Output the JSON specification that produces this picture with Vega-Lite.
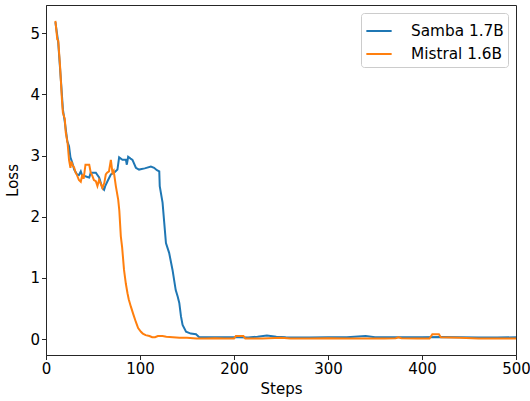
{
  "$schema": "https://vega.github.io/schema/vega-lite/v6.json",
  "width": 470,
  "height": 350,
  "autosize": "none",
  "padding": {"left": 46, "top": 5, "right": 14, "bottom": 46},
  "background": "white",
  "config": {
    "font": "DejaVu Sans",
    "view": {"stroke": "#262626", "strokeWidth": 1},
    "axis": {
      "grid": false,
      "domainColor": "#262626",
      "tickColor": "#262626",
      "tickSize": 4.5,
      "labelFont": "DejaVu Sans",
      "labelFontSize": 15,
      "labelColor": "#000000",
      "titleFont": "DejaVu Sans",
      "titleFontSize": 15,
      "titleFontWeight": "normal",
      "titleColor": "#000000"
    }
  },
  "data": {
    "values": [
      {"step": 10, "loss": 5.18, "model": "Samba 1.7B"},
      {"step": 13, "loss": 4.85, "model": "Samba 1.7B"},
      {"step": 16, "loss": 4.2, "model": "Samba 1.7B"},
      {"step": 18, "loss": 3.75, "model": "Samba 1.7B"},
      {"step": 20, "loss": 3.55, "model": "Samba 1.7B"},
      {"step": 22.7, "loss": 3.23, "model": "Samba 1.7B"},
      {"step": 24.5, "loss": 3.15, "model": "Samba 1.7B"},
      {"step": 26, "loss": 2.97, "model": "Samba 1.7B"},
      {"step": 28, "loss": 2.88, "model": "Samba 1.7B"},
      {"step": 30, "loss": 2.77, "model": "Samba 1.7B"},
      {"step": 33, "loss": 2.69, "model": "Samba 1.7B"},
      {"step": 35, "loss": 2.68, "model": "Samba 1.7B"},
      {"step": 37, "loss": 2.74, "model": "Samba 1.7B"},
      {"step": 38.7, "loss": 2.66, "model": "Samba 1.7B"},
      {"step": 42, "loss": 2.66, "model": "Samba 1.7B"},
      {"step": 44, "loss": 2.65, "model": "Samba 1.7B"},
      {"step": 46, "loss": 2.64, "model": "Samba 1.7B"},
      {"step": 47.6, "loss": 2.72, "model": "Samba 1.7B"},
      {"step": 50, "loss": 2.72, "model": "Samba 1.7B"},
      {"step": 53, "loss": 2.72, "model": "Samba 1.7B"},
      {"step": 56.5, "loss": 2.64, "model": "Samba 1.7B"},
      {"step": 60, "loss": 2.47, "model": "Samba 1.7B"},
      {"step": 61.8, "loss": 2.44, "model": "Samba 1.7B"},
      {"step": 63, "loss": 2.5, "model": "Samba 1.7B"},
      {"step": 65.4, "loss": 2.58, "model": "Samba 1.7B"},
      {"step": 69, "loss": 2.69, "model": "Samba 1.7B"},
      {"step": 72.5, "loss": 2.72, "model": "Samba 1.7B"},
      {"step": 76, "loss": 2.77, "model": "Samba 1.7B"},
      {"step": 77.8, "loss": 2.97, "model": "Samba 1.7B"},
      {"step": 81.3, "loss": 2.93, "model": "Samba 1.7B"},
      {"step": 85, "loss": 2.93, "model": "Samba 1.7B"},
      {"step": 86, "loss": 2.85, "model": "Samba 1.7B"},
      {"step": 87.4, "loss": 2.98, "model": "Samba 1.7B"},
      {"step": 90, "loss": 2.95, "model": "Samba 1.7B"},
      {"step": 92, "loss": 2.93, "model": "Samba 1.7B"},
      {"step": 95.6, "loss": 2.8, "model": "Samba 1.7B"},
      {"step": 99, "loss": 2.77, "model": "Samba 1.7B"},
      {"step": 105, "loss": 2.79, "model": "Samba 1.7B"},
      {"step": 111.6, "loss": 2.82, "model": "Samba 1.7B"},
      {"step": 115, "loss": 2.8, "model": "Samba 1.7B"},
      {"step": 118, "loss": 2.76, "model": "Samba 1.7B"},
      {"step": 120.5, "loss": 2.74, "model": "Samba 1.7B"},
      {"step": 121, "loss": 2.5, "model": "Samba 1.7B"},
      {"step": 124, "loss": 2.23, "model": "Samba 1.7B"},
      {"step": 125.8, "loss": 1.9, "model": "Samba 1.7B"},
      {"step": 127.6, "loss": 1.57, "model": "Samba 1.7B"},
      {"step": 131, "loss": 1.41, "model": "Samba 1.7B"},
      {"step": 134.6, "loss": 1.13, "model": "Samba 1.7B"},
      {"step": 138, "loss": 0.8, "model": "Samba 1.7B"},
      {"step": 140, "loss": 0.7, "model": "Samba 1.7B"},
      {"step": 141.8, "loss": 0.59, "model": "Samba 1.7B"},
      {"step": 143.6, "loss": 0.37, "model": "Samba 1.7B"},
      {"step": 145.3, "loss": 0.23, "model": "Samba 1.7B"},
      {"step": 149, "loss": 0.12, "model": "Samba 1.7B"},
      {"step": 154, "loss": 0.09, "model": "Samba 1.7B"},
      {"step": 159.6, "loss": 0.08, "model": "Samba 1.7B"},
      {"step": 163, "loss": 0.03, "model": "Samba 1.7B"},
      {"step": 170, "loss": 0.03, "model": "Samba 1.7B"},
      {"step": 190, "loss": 0.03, "model": "Samba 1.7B"},
      {"step": 205, "loss": 0.03, "model": "Samba 1.7B"},
      {"step": 215, "loss": 0.025, "model": "Samba 1.7B"},
      {"step": 225, "loss": 0.04, "model": "Samba 1.7B"},
      {"step": 235, "loss": 0.06, "model": "Samba 1.7B"},
      {"step": 245, "loss": 0.04, "model": "Samba 1.7B"},
      {"step": 255, "loss": 0.03, "model": "Samba 1.7B"},
      {"step": 280, "loss": 0.025, "model": "Samba 1.7B"},
      {"step": 300, "loss": 0.03, "model": "Samba 1.7B"},
      {"step": 320, "loss": 0.03, "model": "Samba 1.7B"},
      {"step": 340, "loss": 0.05, "model": "Samba 1.7B"},
      {"step": 350, "loss": 0.03, "model": "Samba 1.7B"},
      {"step": 380, "loss": 0.03, "model": "Samba 1.7B"},
      {"step": 400, "loss": 0.03, "model": "Samba 1.7B"},
      {"step": 420, "loss": 0.035, "model": "Samba 1.7B"},
      {"step": 440, "loss": 0.03, "model": "Samba 1.7B"},
      {"step": 460, "loss": 0.025, "model": "Samba 1.7B"},
      {"step": 480, "loss": 0.025, "model": "Samba 1.7B"},
      {"step": 500, "loss": 0.03, "model": "Samba 1.7B"},
      {"step": 10, "loss": 5.2, "model": "Mistral 1.6B"},
      {"step": 12, "loss": 4.9, "model": "Mistral 1.6B"},
      {"step": 13, "loss": 4.88, "model": "Mistral 1.6B"},
      {"step": 15, "loss": 4.45, "model": "Mistral 1.6B"},
      {"step": 17, "loss": 3.9, "model": "Mistral 1.6B"},
      {"step": 18, "loss": 3.7, "model": "Mistral 1.6B"},
      {"step": 20, "loss": 3.6, "model": "Mistral 1.6B"},
      {"step": 21, "loss": 3.38, "model": "Mistral 1.6B"},
      {"step": 23, "loss": 3.2, "model": "Mistral 1.6B"},
      {"step": 24.5, "loss": 2.93, "model": "Mistral 1.6B"},
      {"step": 26, "loss": 2.8, "model": "Mistral 1.6B"},
      {"step": 27, "loss": 2.9, "model": "Mistral 1.6B"},
      {"step": 28, "loss": 2.85, "model": "Mistral 1.6B"},
      {"step": 30, "loss": 2.8, "model": "Mistral 1.6B"},
      {"step": 31.5, "loss": 2.72, "model": "Mistral 1.6B"},
      {"step": 33, "loss": 2.68, "model": "Mistral 1.6B"},
      {"step": 35, "loss": 2.6, "model": "Mistral 1.6B"},
      {"step": 37, "loss": 2.57, "model": "Mistral 1.6B"},
      {"step": 38.7, "loss": 2.69, "model": "Mistral 1.6B"},
      {"step": 40, "loss": 2.62, "model": "Mistral 1.6B"},
      {"step": 42, "loss": 2.85, "model": "Mistral 1.6B"},
      {"step": 44, "loss": 2.85, "model": "Mistral 1.6B"},
      {"step": 46, "loss": 2.85, "model": "Mistral 1.6B"},
      {"step": 47.6, "loss": 2.72, "model": "Mistral 1.6B"},
      {"step": 49, "loss": 2.68, "model": "Mistral 1.6B"},
      {"step": 51, "loss": 2.6, "model": "Mistral 1.6B"},
      {"step": 53, "loss": 2.58, "model": "Mistral 1.6B"},
      {"step": 54.7, "loss": 2.5, "model": "Mistral 1.6B"},
      {"step": 56.5, "loss": 2.6, "model": "Mistral 1.6B"},
      {"step": 58, "loss": 2.55, "model": "Mistral 1.6B"},
      {"step": 60, "loss": 2.47, "model": "Mistral 1.6B"},
      {"step": 62, "loss": 2.55, "model": "Mistral 1.6B"},
      {"step": 63.6, "loss": 2.69, "model": "Mistral 1.6B"},
      {"step": 65, "loss": 2.72, "model": "Mistral 1.6B"},
      {"step": 67, "loss": 2.74, "model": "Mistral 1.6B"},
      {"step": 69, "loss": 2.93, "model": "Mistral 1.6B"},
      {"step": 70.7, "loss": 2.72, "model": "Mistral 1.6B"},
      {"step": 72, "loss": 2.75, "model": "Mistral 1.6B"},
      {"step": 74.3, "loss": 2.5, "model": "Mistral 1.6B"},
      {"step": 76.8, "loss": 2.28, "model": "Mistral 1.6B"},
      {"step": 78, "loss": 2.1, "model": "Mistral 1.6B"},
      {"step": 79.6, "loss": 1.68, "model": "Mistral 1.6B"},
      {"step": 81, "loss": 1.5, "model": "Mistral 1.6B"},
      {"step": 83, "loss": 1.13, "model": "Mistral 1.6B"},
      {"step": 85, "loss": 0.9, "model": "Mistral 1.6B"},
      {"step": 86.7, "loss": 0.75, "model": "Mistral 1.6B"},
      {"step": 88, "loss": 0.65, "model": "Mistral 1.6B"},
      {"step": 90.3, "loss": 0.53, "model": "Mistral 1.6B"},
      {"step": 93, "loss": 0.4, "model": "Mistral 1.6B"},
      {"step": 95.6, "loss": 0.28, "model": "Mistral 1.6B"},
      {"step": 98, "loss": 0.18, "model": "Mistral 1.6B"},
      {"step": 101, "loss": 0.12, "model": "Mistral 1.6B"},
      {"step": 103, "loss": 0.09, "model": "Mistral 1.6B"},
      {"step": 106, "loss": 0.065, "model": "Mistral 1.6B"},
      {"step": 110, "loss": 0.05, "model": "Mistral 1.6B"},
      {"step": 113, "loss": 0.03, "model": "Mistral 1.6B"},
      {"step": 116, "loss": 0.03, "model": "Mistral 1.6B"},
      {"step": 119, "loss": 0.05, "model": "Mistral 1.6B"},
      {"step": 124, "loss": 0.05, "model": "Mistral 1.6B"},
      {"step": 128, "loss": 0.04, "model": "Mistral 1.6B"},
      {"step": 135, "loss": 0.03, "model": "Mistral 1.6B"},
      {"step": 142, "loss": 0.02, "model": "Mistral 1.6B"},
      {"step": 150, "loss": 0.02, "model": "Mistral 1.6B"},
      {"step": 160, "loss": 0.01, "model": "Mistral 1.6B"},
      {"step": 170, "loss": 0.01, "model": "Mistral 1.6B"},
      {"step": 180, "loss": 0.015, "model": "Mistral 1.6B"},
      {"step": 190, "loss": 0.01, "model": "Mistral 1.6B"},
      {"step": 200, "loss": 0.01, "model": "Mistral 1.6B"},
      {"step": 202, "loss": 0.05, "model": "Mistral 1.6B"},
      {"step": 210, "loss": 0.05, "model": "Mistral 1.6B"},
      {"step": 212, "loss": 0.01, "model": "Mistral 1.6B"},
      {"step": 230, "loss": 0.01, "model": "Mistral 1.6B"},
      {"step": 250, "loss": 0.02, "model": "Mistral 1.6B"},
      {"step": 260, "loss": 0.01, "model": "Mistral 1.6B"},
      {"step": 280, "loss": 0.01, "model": "Mistral 1.6B"},
      {"step": 300, "loss": 0.015, "model": "Mistral 1.6B"},
      {"step": 320, "loss": 0.01, "model": "Mistral 1.6B"},
      {"step": 340, "loss": 0.01, "model": "Mistral 1.6B"},
      {"step": 360, "loss": 0.01, "model": "Mistral 1.6B"},
      {"step": 372, "loss": 0.015, "model": "Mistral 1.6B"},
      {"step": 375, "loss": 0.03, "model": "Mistral 1.6B"},
      {"step": 378, "loss": 0.015, "model": "Mistral 1.6B"},
      {"step": 395, "loss": 0.01, "model": "Mistral 1.6B"},
      {"step": 408, "loss": 0.01, "model": "Mistral 1.6B"},
      {"step": 411, "loss": 0.08, "model": "Mistral 1.6B"},
      {"step": 418, "loss": 0.08, "model": "Mistral 1.6B"},
      {"step": 420, "loss": 0.03, "model": "Mistral 1.6B"},
      {"step": 440, "loss": 0.02, "model": "Mistral 1.6B"},
      {"step": 460, "loss": 0.01, "model": "Mistral 1.6B"},
      {"step": 480, "loss": 0.01, "model": "Mistral 1.6B"},
      {"step": 500, "loss": 0.01, "model": "Mistral 1.6B"}
    ]
  },
  "mark": {"type": "line", "strokeWidth": 2, "clip": true},
  "encoding": {
    "x": {
      "field": "step",
      "type": "quantitative",
      "title": "Steps",
      "scale": {"domain": [0, 500], "nice": false},
      "axis": {"values": [0, 100, 200, 300, 400, 500], "labelFlush": false, "titlePadding": 5}
    },
    "y": {
      "field": "loss",
      "type": "quantitative",
      "title": "Loss",
      "scale": {"domain": [-0.26, 5.46], "nice": false, "zero": false},
      "axis": {"values": [0, 1, 2, 3, 4, 5], "labelFlush": false, "titlePadding": 9}
    },
    "color": {
      "field": "model",
      "type": "nominal",
      "sort": ["Samba 1.7B", "Mistral 1.6B"],
      "scale": {"domain": ["Samba 1.7B", "Mistral 1.6B"], "range": ["#1f77b4", "#ff7f0e"]},
      "legend": {
        "title": null,
        "orient": "top-right",
        "offset": 8,
        "symbolType": "stroke",
        "symbolSize": 640,
        "symbolStrokeWidth": 2,
        "labelFontSize": 15.3,
        "labelFont": "DejaVu Sans",
        "labelColor": "#000000",
        "labelOffset": 18,
        "rowPadding": 0,
        "strokeColor": "#cccccc",
        "cornerRadius": 3,
        "padding": 4,
        "fillColor": "white"
      }
    },
    "order": {"field": "step", "type": "quantitative"}
  }
}
